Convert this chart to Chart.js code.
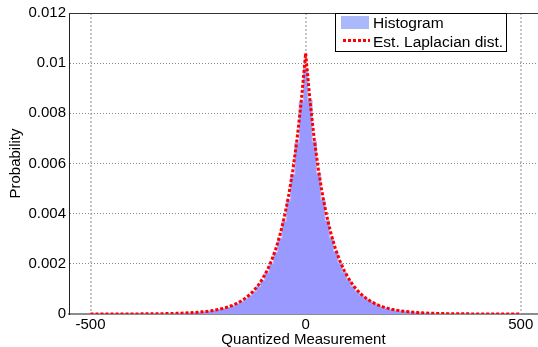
<!DOCTYPE html>
<html>
<head>
<meta charset="utf-8">
<script src="https://cdn.jsdelivr.net/npm/chart.js@4.4.1/dist/chart.umd.min.js"></script>
<style>
  html, body { margin: 0; padding: 0; background: #fff; }
  #wrap { width: 538px; height: 347px; }
</style>
</head>
<body>
<div id="wrap"><canvas id="histChart"></canvas></div>
<script>
// bin centres (quantized measurement)
const measurement = [
  -500, -490, -480, -470, -460, -450, -440, -430, -420, -410,
  -400, -390, -380, -370, -360, -350, -340, -330, -320, -310,
  -300, -290, -280, -270, -260, -250, -240, -230, -220, -210,
  -200, -190, -180, -170, -160, -150, -140, -130, -120, -110,
  -100, -90, -80, -70, -60, -50, -40, -30, -20, -10,
  0,
  10, 20, 30, 40, 50, 60, 70, 80, 90, 100,
  110, 120, 130, 140, 150, 160, 170, 180, 190, 200,
  210, 220, 230, 240, 250, 260, 270, 280, 290, 300,
  310, 320, 330, 340, 350, 360, 370, 380, 390, 400,
  410, 420, 430, 440, 450, 460, 470, 480, 490, 500
];

const histogram = [
  0, 0.000001, 0, 0.000001, 0.000001, 0.000001, 0.000002, 0.000001, 0.000002, 0.000003,
  0.000003, 0.000004, 0.000005, 0.000006, 0.000007, 0.000009, 0.000011, 0.000013, 0.000016, 0.00002,
  0.000024, 0.00003, 0.000036, 0.000044, 0.000054, 0.000066, 0.00008, 0.000097, 0.00012, 0.000146,
  0.000178, 0.000218, 0.000265, 0.000325, 0.000398, 0.000487, 0.000596, 0.000728, 0.000892, 0.00109,
  0.00134, 0.00164, 0.00201, 0.00246, 0.00302, 0.0037, 0.00453, 0.00556, 0.00682, 0.00845,
  0.0098,
  0.00852, 0.00688, 0.0056, 0.00455, 0.00372, 0.00303, 0.00248, 0.00203, 0.00166, 0.00136,
  0.00111, 0.00091, 0.000745, 0.00061, 0.0005, 0.00041, 0.000335, 0.000274, 0.000225, 0.000183,
  0.00015, 0.000123, 0.0001, 0.000082, 0.000067, 0.000055, 0.000045, 0.000037, 0.00003, 0.000025,
  0.00002, 0.000017, 0.000014, 0.000011, 0.000009, 0.000007, 0.000006, 0.000005, 0.000004, 0.000003,
  0.000003, 0.000002, 0.000002, 0.000001, 0.000001, 0.000001, 0.000001, 0.000001, 0, 0
];

const laplacian = [
  0.0000005, 0.0000006, 0.0000007, 0.0000008, 0.000001, 0.0000012, 0.0000015, 0.0000018, 0.0000023, 0.0000028,
  0.0000035, 0.0000042, 0.0000052, 0.0000063, 0.0000077, 0.0000095, 0.0000116, 0.0000141, 0.0000173, 0.0000211,
  0.0000258, 0.0000315, 0.0000384, 0.0000469, 0.0000573, 0.00007, 0.0000855, 0.000104, 0.000128, 0.000156,
  0.00019, 0.000233, 0.000284, 0.000347, 0.000424, 0.000518, 0.000632, 0.000772, 0.000943, 0.00115,
  0.00141, 0.00172, 0.0021, 0.00256, 0.00313, 0.00383, 0.00467, 0.00571, 0.00697, 0.00852,
  0.0104,
  0.00852, 0.00697, 0.00571, 0.00467, 0.00383, 0.00313, 0.00256, 0.0021, 0.00172, 0.00141,
  0.00115, 0.000943, 0.000772, 0.000632, 0.000518, 0.000424, 0.000347, 0.000284, 0.000233, 0.00019,
  0.000156, 0.000128, 0.000104, 0.0000855, 0.00007, 0.0000573, 0.0000469, 0.0000384, 0.0000315, 0.0000258,
  0.0000211, 0.0000173, 0.0000141, 0.0000116, 0.0000095, 0.0000077, 0.0000063, 0.0000052, 0.0000042, 0.0000035,
  0.0000028, 0.0000023, 0.0000018, 0.0000015, 0.0000012, 0.000001, 0.0000008, 0.0000007, 0.0000006, 0.0000005
];

const xTicks = [-500, 0, 500];
const yTicks = [0, 0.002, 0.004, 0.006, 0.008, 0.01, 0.012];

const FONT = "'Liberation Sans', Arial, sans-serif";

// matlab-like legend box in the top right corner + top frame line
const boxLegend = {
  id: "boxLegend",
  afterDatasetsDraw(chart) {
    const { ctx, chartArea } = chart;
    const ds = chart.data.datasets;
    ctx.save();
    // top frame
    ctx.strokeStyle = "#333";
    ctx.lineWidth = 1;
    ctx.beginPath();
    ctx.moveTo(chartArea.left, chartArea.top + 0.5);
    ctx.lineTo(chartArea.right, chartArea.top + 0.5);
    ctx.stroke();

    const x0 = 335.5, y0 = 13.5, w = 171, h = 38;
    ctx.fillStyle = "#fff";
    ctx.fillRect(x0, y0, w, h);
    ctx.strokeStyle = "#000";
    ctx.strokeRect(x0, y0, w, h);

    ctx.fillStyle = "#aab9fb";
    ctx.fillRect(341, 16, 28, 13);

    ctx.strokeStyle = "#ff0000";
    ctx.lineWidth = 3;
    ctx.setLineDash([3, 2]);
    ctx.beginPath();
    ctx.moveTo(343, 40.5);
    ctx.lineTo(370, 40.5);
    ctx.stroke();
    ctx.setLineDash([]);

    ctx.fillStyle = "#000";
    ctx.font = "15.5px " + FONT;
    ctx.textBaseline = "middle";
    ctx.fillText(ds[0].label, 373, 23.5);
    ctx.fillText(ds[1].label, 373, 42.5);
    ctx.restore();
  }
};

const ctx = document.getElementById("histChart");
new Chart(ctx, {
  type: "line",
  data: {
    datasets: [
      {
        label: "Histogram",
        data: measurement.map((x, i) => ({ x: x, y: histogram[i] })),
        backgroundColor: "#9999ff",
        borderColor: "#b3b9f7",
        borderWidth: 1,
        fill: "origin",
        stepped: "middle",
        pointRadius: 0,
        order: 2,
      },
      {
        label: "Est. Laplacian dist.",
        data: measurement.map((x, i) => ({ x: x, y: laplacian[i] })),
        borderColor: "#ff0000",
        borderWidth: 3,
        borderDash: [3, 2],
        fill: false,
        pointRadius: 0,
        tension: 0,
        order: 1,
      },
    ],
  },
  options: {
    responsive: true,
    maintainAspectRatio: false,
    animation: false,
    layout: { padding: { top: 13, right: 0, left: 0, bottom: 0 } },
    plugins: {
      legend: { display: false },
      tooltip: { enabled: false },
    },
    scales: {
      x: {
        type: "linear",
        min: -550,
        max: 540,
        afterBuildTicks: (s) => { s.ticks = xTicks.map((v) => ({ value: v })); },
        afterFit: (s) => { s.height = 33; },
        ticks: {
          color: "#000",
          font: { family: FONT, size: 15 },
          padding: 2,
          maxRotation: 0,
          autoSkip: false,
          callback: (v) => String(v),
        },
        grid: { color: "#c4c4c4", lineWidth: 2, drawTicks: false },
        border: { color: "#8c8c8c", width: 2, dash: [2, 2] },
        title: {
          display: true,
          text: "Quantized Measurement",
          color: "#000",
          font: { family: FONT, size: 15 },
          padding: { top: 0, bottom: -2 },
        },
      },
      y: {
        type: "linear",
        min: 0,
        max: 0.012,
        afterBuildTicks: (s) => { s.ticks = yTicks.map((v) => ({ value: v })); },
        afterFit: (s) => { s.width = 69; },
        ticks: {
          color: "#000",
          font: { family: FONT, size: 15 },
          padding: 3,
          callback: (v) => String(v),
        },
        grid: { color: "#8a8a8a", drawTicks: false },
        border: { color: "#222", width: 1, dash: [1, 2] },
        title: {
          display: true,
          text: "Probability",
          color: "#000",
          font: { family: FONT, size: 15 },
          padding: { top: 7, bottom: 0 },
        },
      },
    },
  },
  plugins: [boxLegend],
});
</script>
</body>
</html>
